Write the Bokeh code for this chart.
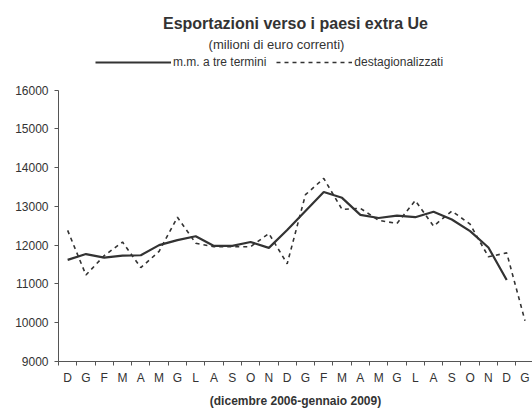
from bokeh.plotting import figure
from bokeh.models import Range1d, FixedTicker, Legend, LegendItem, Title, Label
from bokeh.embed import file_html
from bokeh.resources import INLINE

# ---- data ----
months = ["D", "G", "F", "M", "A", "M", "G", "L", "A", "S", "O", "N",
          "D", "G", "F", "M", "A", "M", "G", "L", "A", "S", "O", "N",
          "D", "G"]
media_mobile = [11620, 11770, 11680, 11730, 11740, 12000, 12130, 12230,
                11980, 11980, 12080, 11930, 12390, 12880, 13370, 13220,
                12780, 12700, 12760, 12720, 12860, 12660, 12360, 11940,
                11100]
destagionalizzati = [12380, 11230, 11730, 12080, 11420, 11840, 12720, 12050,
                     11960, 11960, 11960, 12300, 11520, 13300, 13720, 12920,
                     12950, 12640, 12560, 13150, 12490, 12880, 12540, 11700,
                     11800, 10050]
y_ticks = [9000, 10000, 11000, 12000, 13000, 14000, 15000, 16000]

FONT = "Liberation Sans"
TXT = "#333333"
LINE = "#333333"
AXIS = "#555555"

# layout (pixels)
W, H = 532, 410
TOP, BOTTOM, LEFT = 31, 48, 58
Y16_PX = 89.5          # where 16000 sits
FRAME_BOTTOM = H - 49  # actual frame bottom (axis panel)
y_min, y_max = y_ticks[0], y_ticks[-1]
px_per_unit = (FRAME_BOTTOM - Y16_PX) / (y_max - y_min)
y_top = y_max + (Y16_PX - TOP) / px_per_unit

x_mm = list(range(len(media_mobile)))
x_de = list(range(len(destagionalizzati)))

p = figure(width=W, height=H, title=None,
           x_range=Range1d(-0.5, len(months) - 0.59),
           y_range=Range1d(y_min, y_top),
           min_border_left=LEFT, min_border_right=0,
           min_border_top=TOP, min_border_bottom=BOTTOM,
           output_backend="svg", toolbar_location=None)
p.outline_line_color = None
p.xgrid.visible = False
p.ygrid.visible = False
p.background_fill_color = "white"
p.border_fill_color = "white"

r1 = p.line(x_mm, media_mobile, line_color=LINE, line_width=2.2)
r2 = p.line(x_de, destagionalizzati, line_color=LINE, line_width=1.6,
            line_dash="4 4")

# y axis (drawn only between 9000 and 16000)
ya = p.yaxis[0]
ya.bounds = (y_min, y_max)
ya.ticker = FixedTicker(ticks=y_ticks, minor_ticks=[])
ya.major_label_text_font = FONT
ya.major_label_text_font_size = "12px"
ya.major_label_text_color = TXT
ya.major_tick_out = 4
ya.major_tick_in = 0
ya.minor_tick_out = 0
ya.minor_tick_in = 0
ya.axis_line_color = AXIS
ya.major_tick_line_color = AXIS
ya.major_label_standoff = 6

# x axis: labels at month centres, tick marks between months
xa = p.xaxis[0]
centres = list(range(len(months)))
bounds = [i - 0.5 for i in range(len(months) + 1)]
xa.ticker = FixedTicker(ticks=centres, minor_ticks=bounds)
xa.major_label_overrides = {i: m for i, m in enumerate(months)}
xa.major_tick_out = 0
xa.major_tick_in = 0
xa.minor_tick_out = 4
xa.minor_tick_in = 0
xa.minor_tick_line_color = AXIS
xa.axis_line_color = AXIS
xa.major_label_text_font = FONT
xa.major_label_text_font_size = "12px"
xa.major_label_text_color = TXT
xa.major_label_standoff = 5
xa.axis_label = "(dicembre 2006-gennaio 2009)"
xa.axis_label_text_font = FONT
xa.axis_label_text_font_size = "12px"
xa.axis_label_text_font_style = "bold"
xa.axis_label_text_color = TXT
xa.axis_label_standoff = 6

# title
main = Title(text="Esportazioni verso i paesi extra Ue", align="center",
             text_font=FONT, text_font_size="16px", text_font_style="bold",
             text_color=TXT, standoff=0, offset=-17)
p.add_layout(main, "above")

# subtitle
sub = Label(x=276 - LEFT, y=FRAME_BOTTOM - 44, x_units="screen",
            y_units="screen", text="(milioni di euro correnti)",
            text_font=FONT, text_font_size="13px", text_color=TXT,
            text_align="center", text_baseline="middle")
p.add_layout(sub)

# legend
legend = Legend(items=[LegendItem(label="m.m. a tre termini", renderers=[r1]),
                       LegendItem(label="destagionalizzati", renderers=[r2])],
                orientation="horizontal",
                location=(95 - LEFT, FRAME_BOTTOM - 69),
                glyph_width=76, glyph_height=12, label_standoff=2,
                spacing=10, padding=0, margin=0,
                label_text_font=FONT, label_text_font_size="12px",
                label_text_color=TXT, border_line_alpha=0,
                background_fill_alpha=0)
p.add_layout(legend, "center")

open("out.html", "w").write(file_html(p, INLINE))
